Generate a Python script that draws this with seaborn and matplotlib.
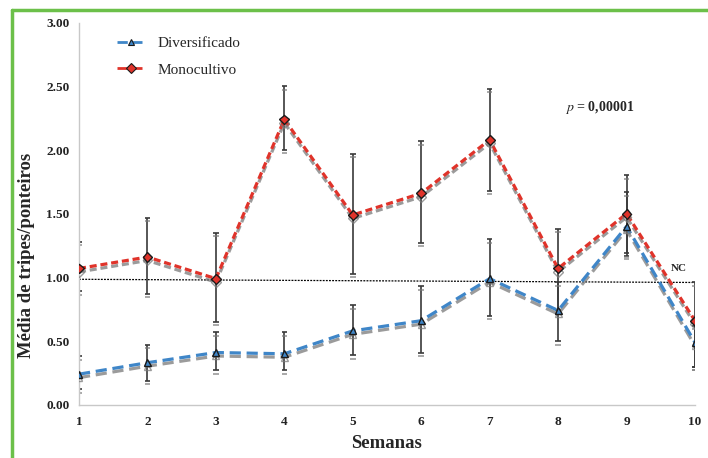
import numpy as np
import pandas as pd
import seaborn as sns
import matplotlib.pyplot as plt
import matplotlib.patheffects as pe
from matplotlib.lines import Line2D

#Data
semanas=[1,2,3,4,5,6,7,8,9,10]
diversificado=[0.24,0.33,0.41,0.40,0.58,0.66,0.99,0.74,1.40,0.49]
div_low=[0.12,0.19,0.27,0.27,0.39,0.41,0.70,0.50,1.19,0.30]
div_high=[0.38,0.47,0.57,0.57,0.78,0.93,1.30,0.96,1.67,0.62]
monocultivo=[1.07,1.16,0.99,2.24,1.49,1.66,2.08,1.07,1.50,0.66]
mono_low=[0.89,0.87,0.65,2.00,1.03,1.27,1.68,0.74,1.17,0.30]
mono_high=[1.28,1.47,1.35,2.50,1.97,2.07,2.48,1.38,1.80,0.96]
ref_x=[1,10]
ref_y=[0.985,0.96]

df=pd.DataFrame({'Semanas':semanas*2,
                 'Media':diversificado+monocultivo,
                 'Sistema':['Diversificado']*10+['Monocultivo']*10})

sns.set_style('white')
plt.rcParams['font.family']=['Liberation Serif','DejaVu Serif']
plt.rcParams['mathtext.fontset']='stix'
serif='Liberation Serif'

fig=plt.figure(figsize=(7.08,4.58),dpi=100)
ax=fig.add_axes([0.1116,0.1163,0.87,0.8342])

#error bars
for vals,lo,hi in [(monocultivo,mono_low,mono_high),(diversificado,div_low,div_high)]:
    v=np.array(vals)
    ax.errorbar(semanas,v,yerr=[v-np.array(lo),np.array(hi)-v],fmt='none',
                ecolor='#3a3a3a',elinewidth=1.2,capsize=2,capthick=1.2,zorder=2)

colors={'Diversificado':'#3f86c8','Monocultivo':'#e0332a'}
markers={'Diversificado':'^','Monocultivo':'D'}
sns.lineplot(data=df,x='Semanas',y='Media',hue='Sistema',palette=colors,
             style='Sistema',markers=markers,dashes={'Diversificado':(3.5,1.8),'Monocultivo':(2.2,1.2)},
             markersize=5,markeredgecolor='#1a1a1a',markeredgewidth=1.0,
             linewidth=2.3,ax=ax,legend=False,zorder=3)
for ln in ax.get_lines():
    ln.set_path_effects([pe.SimpleLineShadow(offset=(0,-2.5),shadow_color='#7a7a7a',alpha=0.75),pe.Normal()])

ax.plot(ref_x,ref_y,color='black',linestyle=(0,(1.5,1)),linewidth=0.9,zorder=1)

ax.set_xlim(1,10)
ax.set_ylim(0,3)
ax.set_xticks(semanas)
ax.set_yticks(np.arange(0,3.01,0.5))
ax.set_yticklabels(['%.2f'%t for t in np.arange(0,3.01,0.5)])
for s in ['top','right']:
    ax.spines[s].set_visible(False)
for s in ['left','bottom']:
    ax.spines[s].set_color('#c8c8c8')
    ax.spines[s].set_linewidth(1)
ax.tick_params(axis='both',labelsize=9.5,colors='#c8c8c8',labelcolor='#222222',length=3,width=1)
ax.tick_params(axis='x',direction='in',pad=8)
ax.tick_params(axis='y',pad=4)
for lab in ax.get_xticklabels()+ax.get_yticklabels():
    lab.set_fontweight('bold')
    lab.set_family(serif)
ax.set_xlabel('Semanas',fontsize=13.5,fontweight='bold',labelpad=5,family=serif)
ax.set_ylabel('Média de tripes/ponteiros',fontsize=13.5,fontweight='bold',family=serif)
ax.yaxis.set_label_coords(-0.071,0.39)

ax.text(8.61,2.33,r'$p$ = 0,00001',fontsize=10,fontweight='bold',ha='center',va='center',family=serif)
ax.text(9.77,1.07,'NC',fontsize=8,fontweight='bold',ha='center',va='center',family=serif)

handles=[Line2D([],[],color=colors[k],linestyle='--',linewidth=2,marker=markers[k],markersize=5,
                markeredgecolor='#1a1a1a',markeredgewidth=0.8) for k in ['Diversificado','Monocultivo']]
ax.legend(handles,['Diversificado','Monocultivo'],loc='upper left',bbox_to_anchor=(0.04,1.0),
          frameon=False,prop={'family':serif,'size':11},handlelength=1.8,labelspacing=0.85)

#green border
fig.add_artist(Line2D([12/708,12/708],[0,1-10/458],color='#6cc04a',linewidth=2.5))
fig.add_artist(Line2D([12/708,1],[1-10/458,1-10/458],color='#6cc04a',linewidth=2.5))

fig.savefig('out.png',dpi=100)
